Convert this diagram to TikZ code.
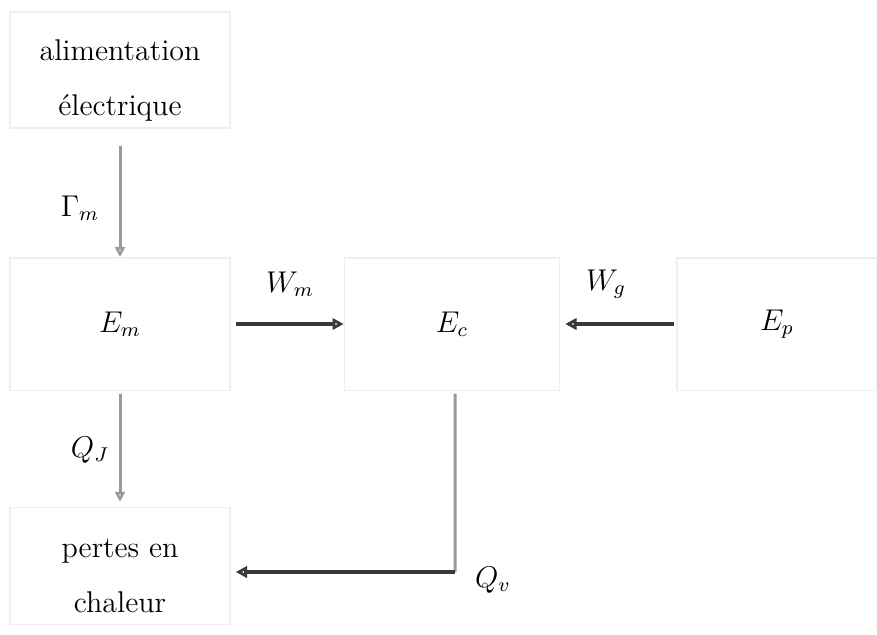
\documentclass[tikz,border=0pt]{standalone}
\usepackage{tikz}
\usetikzlibrary{arrows.meta,positioning,calc}
\definecolor{Frame}{HTML}{EEEEEE}
\definecolor{Ink}{HTML}{3A3A3A}
\definecolor{Pale}{HTML}{9A9A9A}
\newcommand{\bas}[1]{\raisebox{-4pt}[\height][\depth]{#1}}
\tikzset{
  bloc/.style={draw=Frame,line width=0.6pt,inner sep=0pt,align=center,font=\large},
  flux/.style={line width=1.5pt,Ink,-{Triangle[open,length=4.5pt,width=4.5pt]}},
  fluxv/.style={line width=1.2pt,Pale,-{Triangle[open,length=4pt,width=4pt]}},
  lbl/.style={font=\large}
}
\begin{document}
\begin{tikzpicture}[x=0.4pt,y=-0.4pt]
  \useasboundingbox (0,0) rectangle (877,634);
  % blocs
  \node[bloc,minimum width=88pt,minimum height=46.4pt] (alim) at (120,70) {\bas{alimentation}\\[4pt]\bas{\raisebox{-4pt}{électrique}}};
  \node[bloc,minimum width=88pt,minimum height=53pt] (Em) at (120,324) {$E_m$};
  \node[bloc,minimum width=86pt,minimum height=53pt] (Ec) at (452,324) {$E_c$};
  \node[bloc,minimum width=80pt,minimum height=53pt] (Ep) at (777,324) {$E_p$};
  \node[bloc,minimum width=88pt,minimum height=46.8pt] (pertes) at (120,566) {\bas{pertes en}\\[4pt]\bas{\raisebox{-4pt}{chaleur}}};
  % flux
  \draw[fluxv,shorten <=7pt] (alim.south) -- (Em.north);
  \draw[fluxv,shorten <=1pt,shorten >=2pt] (Em.south) -- (pertes.north);
  \draw[flux,shorten <=2pt] (Em.east) -- (Ec.west);
  \draw[flux,shorten <=1pt,shorten >=2pt] (Ep.west) -- (Ec.east);
  \coordinate (coude) at ($(Ec.south)+(3,181)$);
  \draw[line width=1.2pt,Pale,shorten <=1pt] ([xshift=1.2pt]Ec.south) -- (coude);
  \draw[flux,shorten >=2pt] (coude) -- (coude -| pertes.east);
  % etiquettes
  \node[lbl] (gam) at (80,208) {$\Gamma_m$};
  \node[lbl] (wm) at (290,284) {$W_m$};
  \node[lbl] (wg) at (606,284) {$W_g$};
  \node[lbl] (qj) at (90,450) {$Q_J$};
  \node[lbl] (qv) at (493,580) {$Q_v$};
\end{tikzpicture}
\end{document}
